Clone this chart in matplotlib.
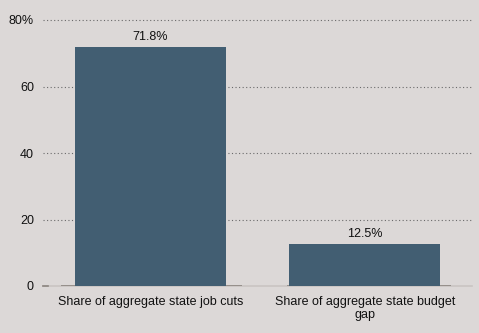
import matplotlib
matplotlib.use("Agg")
import matplotlib.pyplot as plt

categories = ["Share of aggregate state job cuts", "Share of aggregate state budget\ngap"]
values = [71.8, 12.5]
value_labels = ["71.8%", "12.5%"]
yticks = [0, 20, 40, 60, 80]
ytick_labels = ["0", "20", "40", "60", "80%"]

bg = "#dcd8d7"
bar_color = "#425e72"

plt.rcParams['font.family'] = ['Liberation Sans', 'DejaVu Sans']

fig = plt.figure(figsize=(4.79, 3.33), dpi=100, facecolor=bg)
ax = fig.add_axes([43/479, 1 - 286/333, 429/479, 266/333], facecolor=bg)

x = list(range(len(categories)))
ax.bar(x, values, width=0.705, color=bar_color, zorder=3)

for xi, v, lab in zip(x, values, value_labels):
    ax.annotate(lab, (xi, v), xytext=(0, 3), textcoords="offset points",
                ha="center", va="bottom", fontsize=9, color="#111111")

ax.set_xlim(-0.5, 1.5)
ax.set_ylim(0, 80)
ax.set_yticks(yticks)
ax.set_yticklabels(ytick_labels)
ax.set_xticks(x)
ax.set_xticklabels(categories, linespacing=1.1)

# dotted gridlines, baseline drawn separately
for t in yticks[1:]:
    ax.axhline(t, color="#6a6a6a", lw=0.8, ls=(0, (1, 2.2)), zorder=1, clip_on=False)

ax.axhline(0, color="#c9c4c2", lw=1.2, zorder=2, clip_on=False)
ax.plot([-0.415, 0.428], [0, 0], color="#8c8580", lw=1.2, zorder=2, solid_capstyle="butt")
ax.plot([0.636, 1.40], [0, 0], color="#8c8580", lw=1.2, zorder=2, solid_capstyle="butt")
ax.plot([-0.5, -0.477], [0, 0], color="#8c8580", lw=1.2, zorder=2, clip_on=False)

for s in ax.spines.values():
    s.set_visible(False)
ax.tick_params(axis="both", length=0, labelsize=9, colors="#111111")
ax.tick_params(axis="y", pad=6.5)
ax.tick_params(axis="x", pad=7.5)

fig.savefig("out.png", dpi=100, facecolor=bg)
